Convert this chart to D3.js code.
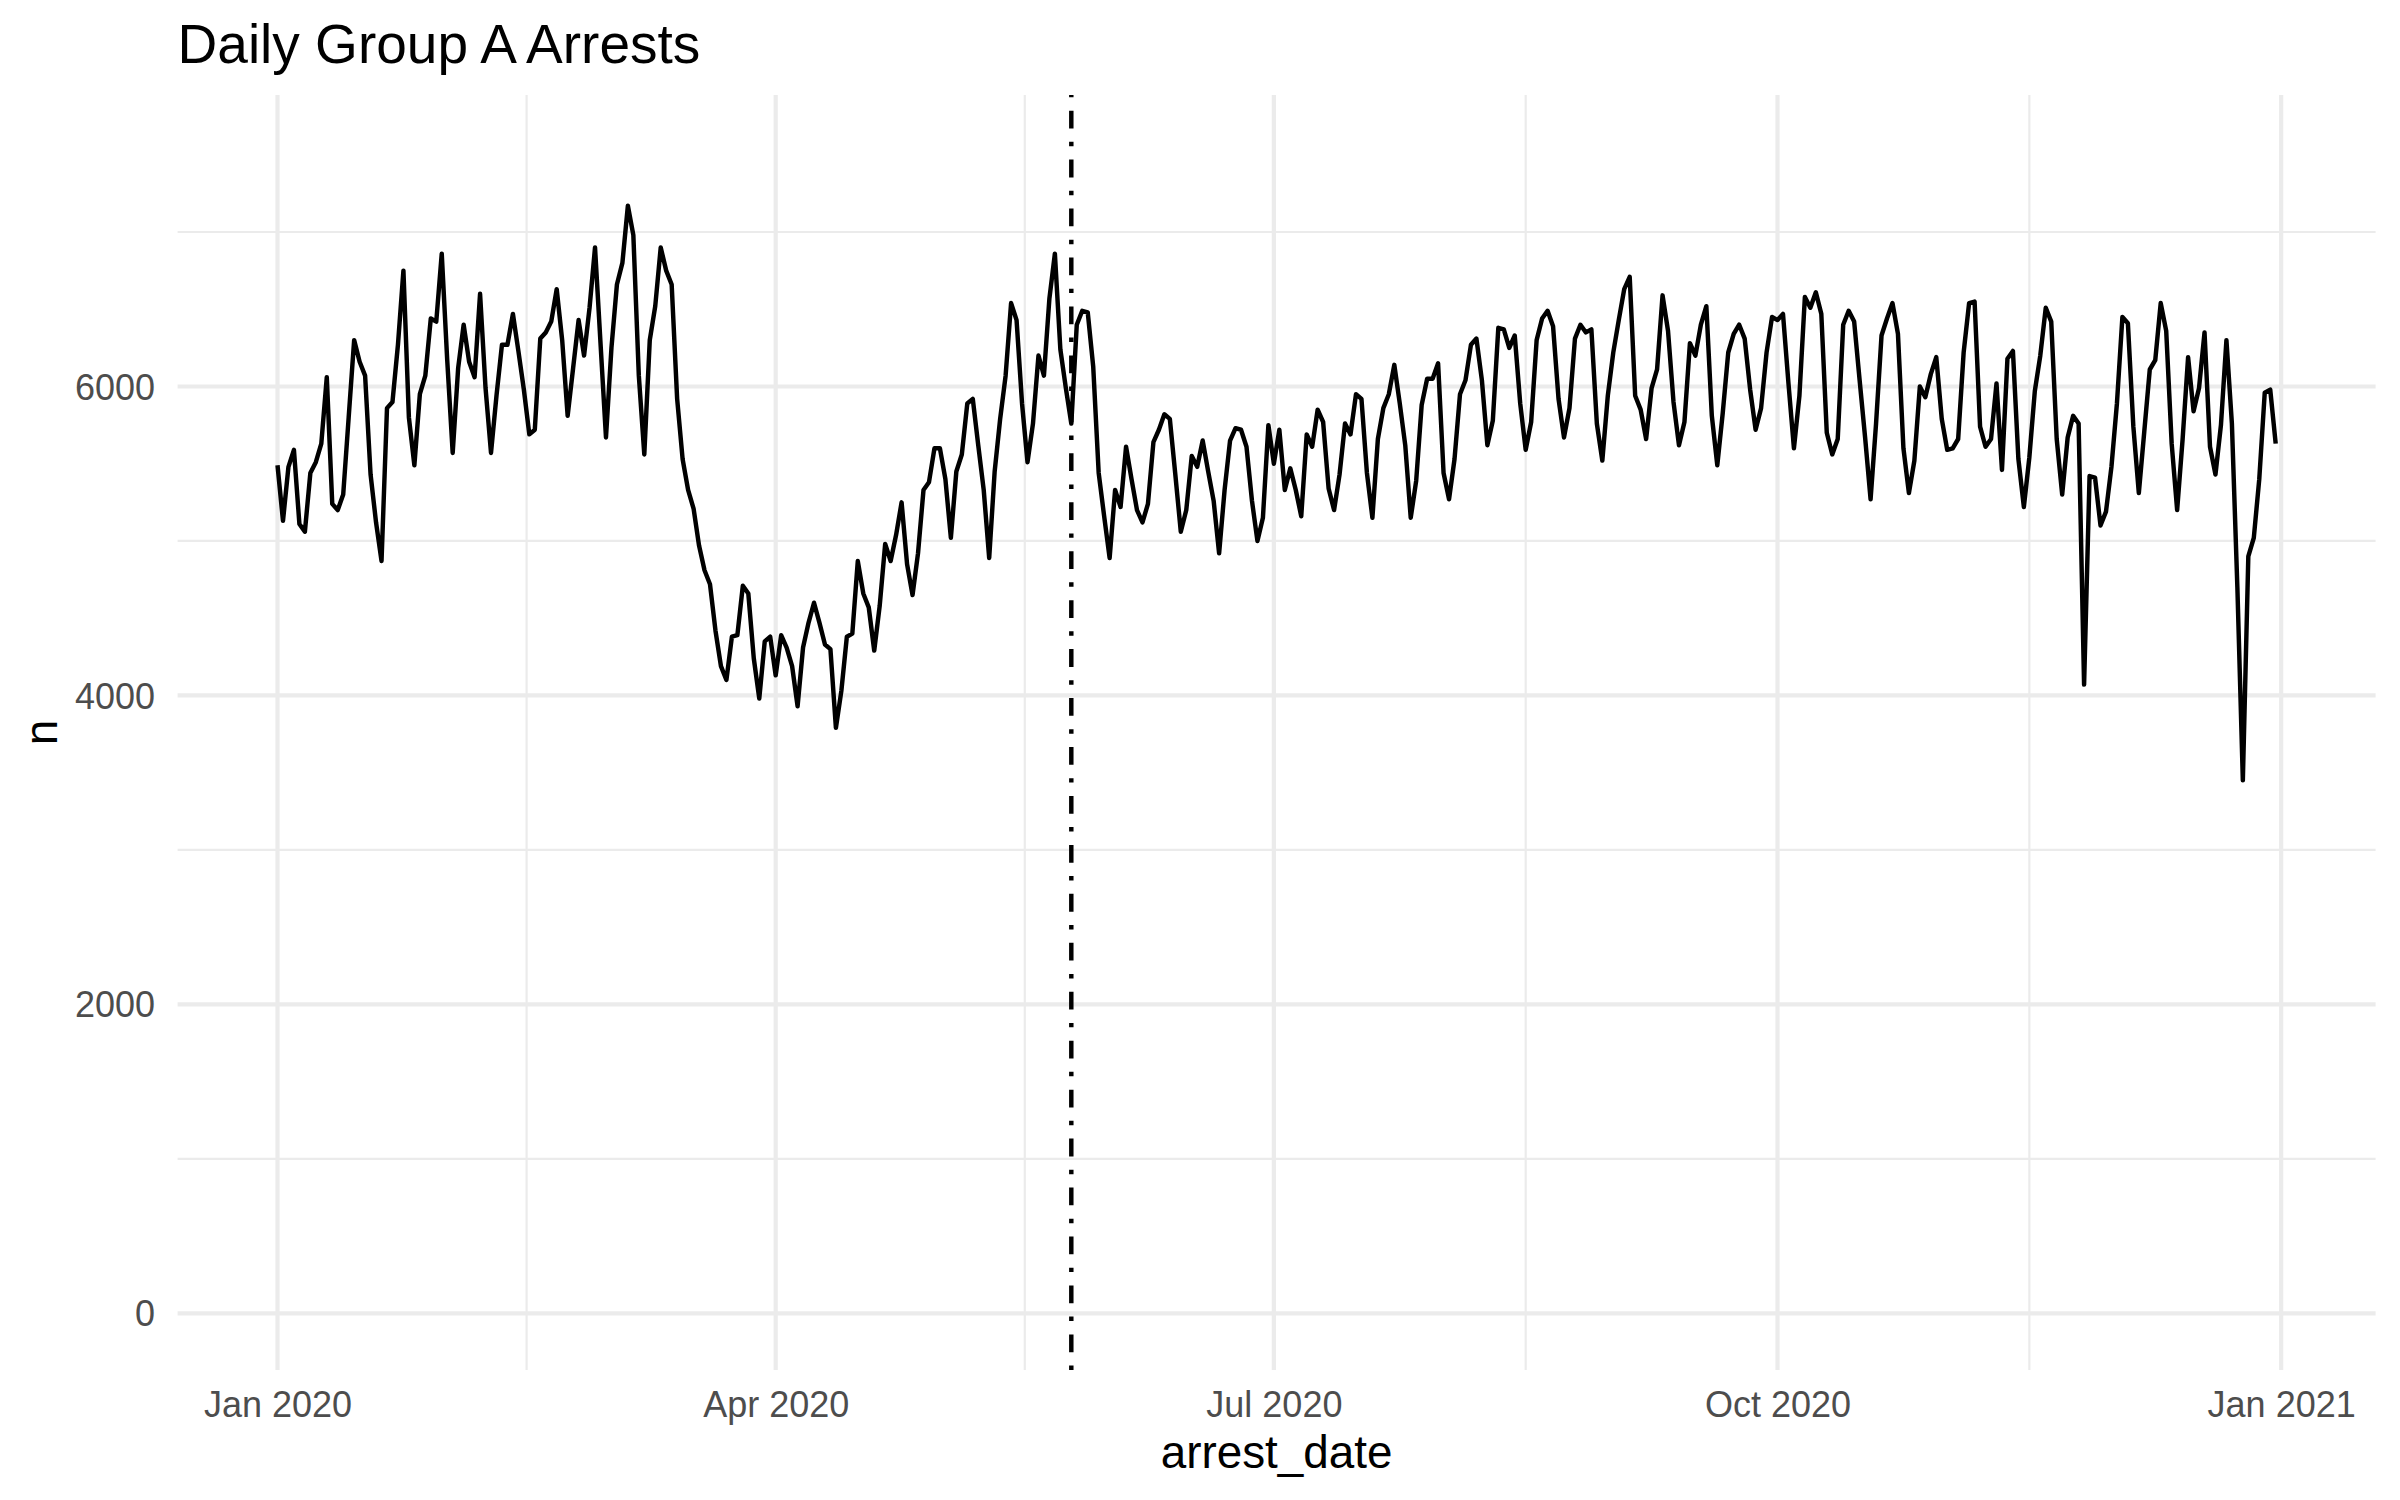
<!DOCTYPE html>
<html>
<head>
<meta charset="utf-8">
<script src="https://cdn.jsdelivr.net/npm/d3@7"></script>
<style>
  body { margin: 0; background: #fff; }
  text { font-family: "Liberation Sans", Arial, sans-serif; }
</style>
</head>
<body>
<svg width="2400" height="1500"></svg>
<script>
// daily counts, starting 2020-01-01
var startDate = "2020-01-01";
var counts = [
  5490, 5130, 5480, 5590, 5110, 5060, 5440, 5510, 5630, 6060,
  5240, 5200, 5300, 5800, 6300, 6160, 6070, 5430, 5120, 4870,
  5860, 5900, 6270, 6750, 5800, 5490, 5950, 6070, 6440, 6420,
  6860, 6170, 5570, 6120, 6400, 6160, 6060, 6600, 5990, 5570,
  5940, 6270, 6270, 6470, 6230, 5980, 5690, 5720, 6310, 6350,
  6420, 6630, 6300, 5810, 6120, 6430, 6200, 6510, 6900, 6280,
  5670, 6250, 6660, 6800, 7170, 6980, 6070, 5560, 6300, 6520,
  6900, 6750, 6660, 5920, 5530, 5330, 5210, 4970, 4810, 4720,
  4420, 4190, 4100, 4380, 4390, 4710, 4660, 4240, 3980, 4350,
  4380, 4130, 4390, 4310, 4190, 3930, 4310, 4470, 4600, 4470,
  4330, 4300, 3790, 4030, 4380, 4400, 4870, 4660, 4570, 4290,
  4580, 4980, 4870, 5040, 5250, 4850, 4650, 4920, 5330, 5380,
  5600, 5600, 5400, 5020, 5450, 5560, 5890, 5920, 5620, 5330,
  4890, 5450, 5790, 6070, 6540, 6430, 5890, 5510, 5760, 6200,
  6070, 6570, 6860, 6240, 5990, 5760, 6400, 6490, 6480, 6130,
  5440, 5160, 4890, 5330, 5220, 5610, 5400, 5200, 5120, 5240,
  5640, 5720, 5820, 5790, 5430, 5060, 5200, 5550, 5480, 5650,
  5450, 5260, 4920, 5330, 5650, 5730, 5720, 5610, 5260, 5000,
  5150, 5750, 5500, 5720, 5330, 5470, 5330, 5160, 5690, 5610,
  5850, 5770, 5340, 5200, 5430, 5760, 5690, 5950, 5920, 5440,
  5150, 5660, 5860, 5950, 6140, 5890, 5620, 5150, 5390, 5880,
  6050, 6050, 6150, 5440, 5270, 5530, 5950, 6040, 6270, 6310,
  6040, 5620, 5780, 6380, 6370, 6250, 6330, 5890, 5590, 5770,
  6300, 6440, 6490, 6390, 5920, 5670, 5860, 6310, 6400, 6350,
  6370, 5760, 5520, 5940, 6220, 6430, 6630, 6710, 5940, 5850,
  5660, 5990, 6110, 6590, 6360, 5900, 5620, 5770, 6280, 6200,
  6400, 6520, 5810, 5490, 5830, 6220, 6340, 6400, 6310, 5980,
  5720, 5860, 6220, 6450, 6430, 6470, 6020, 5600, 5940, 6580,
  6510, 6610, 6470, 5700, 5560, 5660, 6400, 6490, 6420, 6040,
  5670, 5270, 5760, 6330, 6440, 6540, 6340, 5600, 5310, 5520,
  6000, 5930, 6080, 6190, 5790, 5590, 5600, 5660, 6220, 6540,
  6550, 5740, 5610, 5660, 6020, 5460, 6180, 6230, 5530, 5220,
  5540, 5970, 6200, 6510, 6420, 5660, 5300, 5670, 5810, 5760,
  4070, 5420, 5410, 5100, 5190, 5480, 5890, 6450, 6410, 5740,
  5310, 5710, 6110, 6170, 6540, 6360, 5630, 5200, 5660, 6190,
  5840, 5990, 6350, 5610, 5430, 5750, 6300, 5760, 4700, 3450,
  4900, 5020, 5400, 5960, 5980, 5630
];
var markerDate = "2020-05-25";
var xTickDates = ["2020-01-01", "2020-04-01", "2020-07-01", "2020-10-01", "2021-01-01"];
var yTicks = [0, 2000, 4000, 6000];
var yMinorTicks = [1000, 3000, 5000, 7000];

var svg = d3.select("svg"),
    panel = {left: 177.6, right: 2375.6, top: 95, bottom: 1370};

var parse = d3.utcParse("%Y-%m-%d"),
    fmt = d3.utcFormat("%b %Y");

var t0 = parse(startDate);
var data = counts.map(function(n, i) { return {date: d3.utcDay.offset(t0, i), n: n}; });

// ggplot-like 5% expansion on x
var ext = d3.extent(data, function(d) { return d.date; }),
    pad = (ext[1] - ext[0]) * 0.05;
var x = d3.scaleUtc()
    .domain([new Date(+ext[0] - pad), new Date(+ext[1] + pad)])
    .range([panel.left, panel.right]);

var y = d3.scaleLinear()
    .domain([-367, 7887])
    .range([panel.bottom, panel.top]);

var majorX = xTickDates.map(parse);
var minorX = d3.pairs(majorX).map(function(p) { return new Date((+p[0] + +p[1]) / 2); });

var grid = svg.append("g").attr("class", "grid");

grid.selectAll(".minor-y")
  .data(yMinorTicks)
  .enter().append("line")
    .attr("x1", panel.left).attr("x2", panel.right)
    .attr("y1", y).attr("y2", y)
    .style("stroke", "#EBEBEB").style("stroke-width", 2.2);

grid.selectAll(".minor-x")
  .data(minorX)
  .enter().append("line")
    .attr("x1", x).attr("x2", x)
    .attr("y1", panel.top).attr("y2", panel.bottom)
    .style("stroke", "#EBEBEB").style("stroke-width", 2.2);

grid.selectAll(".major-y")
  .data(yTicks)
  .enter().append("line")
    .attr("x1", panel.left).attr("x2", panel.right)
    .attr("y1", y).attr("y2", y)
    .style("stroke", "#EBEBEB").style("stroke-width", 4.2);

grid.selectAll(".major-x")
  .data(majorX)
  .enter().append("line")
    .attr("x1", x).attr("x2", x)
    .attr("y1", panel.top).attr("y2", panel.bottom)
    .style("stroke", "#EBEBEB").style("stroke-width", 4.2);

// the series
var line = d3.line()
    .x(function(d) { return x(d.date); })
    .y(function(d) { return y(d.n); });

svg.append("path")
    .datum(data)
    .attr("d", line)
    .style("fill", "none")
    .style("stroke", "#000")
    .style("stroke-width", 4.45)
    .style("stroke-linejoin", "round");

// dotdash vertical marker, drawn bottom -> top like R does
var mx = x(parse(markerDate));
svg.append("line")
    .attr("x1", mx).attr("x2", mx)
    .attr("y1", panel.bottom).attr("y2", panel.top)
    .style("stroke", "#000")
    .style("stroke-width", 4.45)
    .style("stroke-dasharray", "4.45,13.35,17.8,13.35");

// axes (tick labels only, theme_minimal)
var xAxis = svg.append("g")
    .attr("transform", "translate(0," + panel.bottom + ")")
    .call(d3.axisBottom(x).tickValues(majorX).tickFormat(fmt).tickSize(0).tickPadding(47));
var yAxis = svg.append("g")
    .attr("transform", "translate(" + panel.left + ",0)")
    .call(d3.axisLeft(y).tickValues(yTicks).tickFormat(d3.format("d")).tickSize(0).tickPadding(22.6));

svg.selectAll(".domain").remove();
svg.selectAll(".tick text")
    .style("font-family", "'Liberation Sans', Arial, sans-serif")
    .style("font-size", "36px")
    .style("fill", "#4D4D4D");
xAxis.selectAll(".tick text").attr("dy", null).attr("y", 47);
yAxis.selectAll(".tick text").attr("dy", "0.35em");

// titles
svg.append("text")
    .attr("x", panel.left)
    .attr("y", 63)
    .style("font-size", "55px")
    .style("fill", "#000")
    .text("Daily Group A Arrests");

svg.append("text")
    .attr("x", (panel.left + panel.right) / 2)
    .attr("y", 1468)
    .attr("text-anchor", "middle")
    .style("font-size", "45.8px")
    .style("fill", "#000")
    .text("arrest_date");

svg.append("text")
    .attr("transform", "translate(57," + (panel.top + panel.bottom) / 2 + ") rotate(-90)")
    .attr("text-anchor", "middle")
    .style("font-size", "45.8px")
    .style("fill", "#000")
    .text("n");
</script>
</body>
</html>
